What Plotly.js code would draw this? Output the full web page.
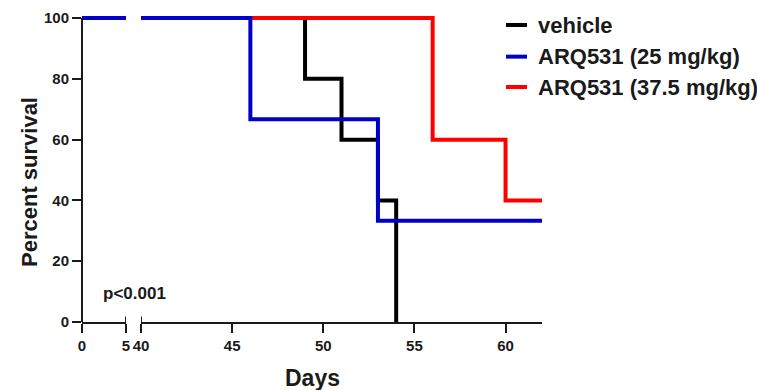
<!DOCTYPE html>
<html>
<head>
<meta charset="utf-8">
<script src="https://cdn.plot.ly/plotly-3.0.1.min.js"></script>
<style>html,body{margin:0;padding:0;background:#fff;}#chart{width:757px;height:390px;}</style>
</head>
<body>
<div id="chart"></div>
<script>
// Data (Kaplan-Meier steps)
const seriesNames = ["vehicle", "ARQ531 (25 mg/kg)", "ARQ531 (37.5 mg/kg)"];
const seriesColors = ["#000000", "#0000C8", "#FF0000"];
const vehicleDays = [0, 49, 51, 53, 54];
const vehicleSurv = [100, 80, 60, 40, 0];
const arq25Days = [0, 46, 53, 62];
const arq25Surv = [100, 66.7, 33.3, 33.3];
const arq375Days = [0, 56, 60, 62];
const arq375Surv = [100, 60, 40, 40];
const xTicksLeft = [0, 5];
const xTicksRight = [40, 45, 50, 55, 60];
const yTicks = [0, 20, 40, 60, 80, 100];
const xTitle = "Days";
const yTitle = "Percent survival";
const pText = "p<0.001";

const FONT = "Liberation Sans, Arial, sans-serif";
const TXT = "#1a1a1a";

const groups = [
  {name: seriesNames[0], x: vehicleDays, y: vehicleSurv, color: seriesColors[0]},
  {name: seriesNames[2], x: arq375Days, y: arq375Surv, color: seriesColors[2]},
  {name: seriesNames[1], x: arq25Days, y: arq25Surv, color: seriesColors[1]}
];

const traces = [];
["x", "x2"].forEach(ax => {
  groups.forEach(g => {
    traces.push({
      type: "scatter", mode: "lines", x: g.x, y: g.y, xaxis: ax, yaxis: "y",
      line: {shape: "hv", color: g.color, width: 4}, showlegend: false, hoverinfo: "skip"
    });
  });
});

const d1 = [0, 44 / 460];
const d2 = [59 / 460, 1];

const axisCommon = {
  showgrid: false, zeroline: false, showline: true, linecolor: TXT, linewidth: 2,
  ticks: "outside", ticklen: 9, tickwidth: 2, tickcolor: TXT,
  tickfont: {family: FONT, size: 15, color: TXT, weight: "bold"}, tickmode: "array"
};

const shapes = [
  // y axis line (0..100)
  {type: "line", xref: "paper", yref: "y", x0: 0, x1: 0, y0: 0, y1: 100, line: {color: TXT, width: 2}},
  // axis break marks
  {type: "line", xref: "x", yref: "paper", x0: 5, x1: 5, y0: -0.018, y1: 0.018, line: {color: TXT, width: 2}},
  {type: "line", xref: "x2", yref: "paper", x0: 40, x1: 40, y0: -0.018, y1: 0.018, line: {color: TXT, width: 2}}
];

// custom legend
const legendOrder = [0, 1, 2];
const legY = [0.958, 0.856, 0.758];
const annotations = [];
legendOrder.forEach((i, k) => {
  shapes.push({type: "line", xref: "paper", yref: "paper", x0: (506 - 82) / 460, x1: (527 - 82) / 460,
    y0: legY[k], y1: legY[k], line: {color: seriesColors[i], width: 4}});
  annotations.push({xref: "paper", yref: "paper", x: (536 - 82) / 460, y: legY[k], xanchor: "left", yanchor: "middle",
    text: seriesNames[i], showarrow: false, font: {family: FONT, size: 22, color: TXT, weight: "bold"}});
});
annotations.push({xref: "paper", yref: "paper", x: (134 - 82) / 460, y: (322 - 293) / 310, xanchor: "center", yanchor: "middle",
  text: pText, showarrow: false, font: {family: FONT, size: 17, color: TXT, weight: "bold"}});
// axis titles
annotations.push({xref: "paper", yref: "paper", x: 0.5, y: (322 - 378) / 310, xanchor: "center", yanchor: "middle",
  text: xTitle, showarrow: false, font: {family: FONT, size: 23, color: TXT, weight: "bold"}});
annotations.push({xref: "paper", yref: "paper", x: (29 - 82) / 460, y: (322 - 182) / 310, xanchor: "center", yanchor: "middle",
  textangle: -90, text: yTitle, showarrow: false, font: {family: FONT, size: 22, color: TXT, weight: "bold"}});

const layout = {
  width: 757, height: 390,
  margin: {l: 82, r: 215, t: 12, b: 68},
  paper_bgcolor: "#fff", plot_bgcolor: "#fff",
  showlegend: false,
  xaxis: Object.assign({}, axisCommon, {domain: d1, range: [0, 5], tickvals: xTicksLeft, anchor: "y"}),
  xaxis2: Object.assign({}, axisCommon, {domain: d2, range: [40, 62], tickvals: xTicksRight, anchor: "y"}),
  yaxis: Object.assign({}, axisCommon, {showline: false, range: [0, 102], tickvals: yTicks}),
  shapes: shapes,
  annotations: annotations
};

Plotly.newPlot("chart", traces, layout, {displayModeBar: false, staticPlot: true});
</script>
</body>
</html>
